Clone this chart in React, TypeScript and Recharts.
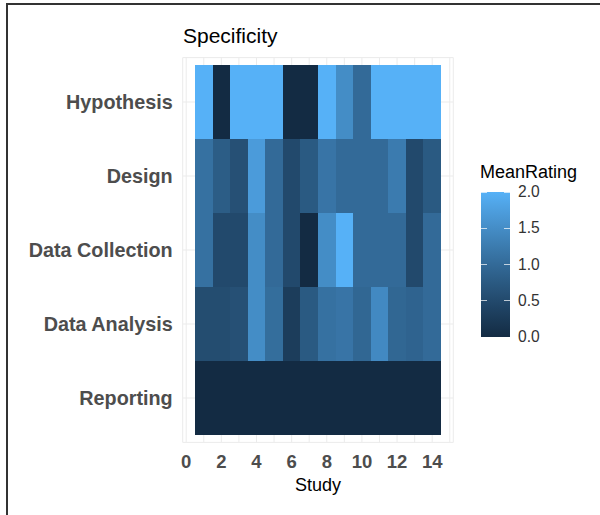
import { Bar, BarChart, CartesianGrid, Cell, XAxis, YAxis } from "recharts";

const rows = ["Hypothesis", "Design", "Data Collection", "Data Analysis", "Reporting"];
const studies = [1, 2, 3, 4, 5, 6, 7, 8, 9, 10, 11, 12, 13, 14];

// mean rating per study, one array per row
const hypothesis = [2, 0, 2, 2, 2, 0, 0, 2, 1.5, 1, 2, 2, 2, 2];
const design = [1.1, 0.8, 0.6, 1.7, 1, 0.5, 0.75, 1.15, 1, 1, 1, 1.25, 0.5, 0.75];
const dataCollection = [1.1, 0.5, 0.5, 1.5, 1, 0.5, 0, 1.5, 2, 1, 1, 1, 0.5, 1];
const dataAnalysis = [0.55, 0.55, 0.6, 1.5, 1.05, 0.3, 0.75, 1.1, 1.15, 0.95, 1.45, 0.95, 0.9, 1];
const reporting = [0, 0, 0, 0, 0, 0, 0, 0, 0, 0, 0, 0, 0, 0];

const xTicks = [0, 1, 2, 3, 4, 5, 6, 7, 8, 9, 10, 11, 12, 13, 14, 15];
const legendBreaks = [0, 0.5, 1, 1.5, 2];

const ratings = [hypothesis, design, dataCollection, dataAnalysis, reporting];

const LOW = "#132B43";
const HIGH = "#56B1F7";
const FONT = "'Liberation Sans', Arial, sans-serif";

// ggplot-like gradient, interpolated in Lab space
function toLinear(c: number) {
  const v = c / 255;
  return v <= 0.04045 ? v / 12.92 : Math.pow((v + 0.055) / 1.055, 2.4);
}
function fromLinear(c: number) {
  const v = c <= 0.0031308 ? 12.92 * c : 1.055 * Math.pow(c, 1 / 2.4) - 0.055;
  return Math.round(Math.min(1, Math.max(0, v)) * 255);
}
function hexToLab(hex: string) {
  const r = toLinear(parseInt(hex.slice(1, 3), 16));
  const g = toLinear(parseInt(hex.slice(3, 5), 16));
  const b = toLinear(parseInt(hex.slice(5, 7), 16));
  const x = (0.4124 * r + 0.3576 * g + 0.1805 * b) / 0.95047;
  const y = 0.2126 * r + 0.7152 * g + 0.0722 * b;
  const z = (0.0193 * r + 0.1192 * g + 0.9505 * b) / 1.08883;
  const f = (t: number) => (t > 0.008856 ? Math.cbrt(t) : 7.787 * t + 16 / 116);
  const fx = f(x), fy = f(y), fz = f(z);
  return [116 * fy - 16, 500 * (fx - fy), 200 * (fy - fz)];
}
function labToHex([L, A, B]: number[]) {
  const fy = (L + 16) / 116;
  const fx = fy + A / 500;
  const fz = fy - B / 200;
  const inv = (t: number) => (t * t * t > 0.008856 ? t * t * t : (t - 16 / 116) / 7.787);
  const x = inv(fx) * 0.95047, y = inv(fy), z = inv(fz) * 1.08883;
  const r = 3.2406 * x - 1.5372 * y - 0.4986 * z;
  const g = -0.9689 * x + 1.8758 * y + 0.0415 * z;
  const b = 0.0557 * x - 0.204 * y + 1.057 * z;
  return "#" + [r, g, b].map((c) => fromLinear(c).toString(16).padStart(2, "0")).join("");
}
const lowLab = hexToLab(LOW);
const highLab = hexToLab(HIGH);
function ratingColor(v: number) {
  const t = Math.min(1, Math.max(0, v / 2));
  return labToHex(lowLab.map((c, i) => c + (highLab[i] - c) * t));
}

const tableData = rows.map((row) => {
  const item: Record<string, string | number> = { row, offset: 0.5 };
  studies.forEach((s) => {
    item[`s${s}`] = 1;
  });
  return item;
});

const gradientStops = [0, 0.1, 0.2, 0.3, 0.4, 0.5, 0.6, 0.7, 0.8, 0.9, 1]
  .map((t) => `${ratingColor(t * 2)} ${(1 - t) * 100}%`)
  .reverse()
  .join(", ");

const BAR_TOP = 192;
const BAR_HEIGHT = 145;

export default function App() {
  return (
    <div
      style={{
        position: "absolute",
        left: 0,
        top: 0,
        width: 600,
        height: 515,
        background: "#fff",
        overflow: "hidden",
        fontFamily: FONT
      }}
    >
      <div
        style={{
          position: "absolute",
          left: 6,
          top: 3,
          width: 600,
          height: 520,
          borderTop: "2px solid #333",
          borderLeft: "2px solid #333"
        }}
      />
      <div
        style={{
          position: "absolute",
          left: 183,
          top: 25,
          fontSize: 21,
          lineHeight: "21px",
          color: "#000"
        }}
      >
        Specificity
      </div>

      <div style={{ position: "absolute", left: 0, top: 0 }}>
        <BarChart
          width={600}
          height={515}
          data={tableData}
          layout="vertical"
          barCategoryGap={0}
          barGap={0}
          margin={{ top: 57.6, right: 146.7, bottom: 22.6, left: 7.7 }}
        >
          <CartesianGrid stroke="#EBEBEB" strokeWidth={1} />
          <XAxis
            type="number"
            domain={[-0.2, 15.2]}
            ticks={xTicks}
            interval={0}
            allowDataOverflow
            axisLine={false}
            tickLine={false}
            tickMargin={6}
            height={50}
            tickFormatter={(v: number) => (v % 2 === 0 && v <= 14 ? String(v) : "")}
            tick={{ fill: "#4D4D4D", fontSize: 18.5, fontWeight: 700, fontFamily: FONT }}
            label={{
              value: "Study",
              position: "insideBottom",
              offset: 1,
              fill: "#000",
              fontSize: 18,
              fontFamily: FONT
            }}
          />
          <YAxis
            type="category"
            dataKey="row"
            width={175}
            axisLine={false}
            tickLine={false}
            tickMargin={4}
            interval={0}
            padding={{ top: 7.4, bottom: 7.4 }}
            tick={{ fill: "#4D4D4D", fontSize: 19.8, fontWeight: 700, fontFamily: FONT }}
          />
          <Bar dataKey="offset" stackId="tiles" fill="transparent" isAnimationActive={false} />
          {studies.map((s) => (
            <Bar key={s} dataKey={`s${s}`} stackId="tiles" isAnimationActive={false}>
              {ratings.map((vals, r) => (
                <Cell key={r} fill={ratingColor(vals[s - 1])} shapeRendering="crispEdges" />
              ))}
            </Bar>
          ))}
        </BarChart>
      </div>

      <div
        style={{
          position: "absolute",
          left: 480,
          top: 163,
          fontSize: 18,
          lineHeight: "18px",
          color: "#000"
        }}
      >
        MeanRating
      </div>
      <div
        style={{
          position: "absolute",
          left: 481,
          top: BAR_TOP,
          width: 29,
          height: BAR_HEIGHT,
          background: `linear-gradient(to bottom, ${gradientStops})`
        }}
      >
        {legendBreaks.map((b) => {
          const y = BAR_HEIGHT - (b / 2) * BAR_HEIGHT;
          return (
            <div key={b}>
              <div style={{ position: "absolute", left: 0, top: y - 0.5, width: 6, height: 1, background: "rgba(255,255,255,0.7)" }} />
              <div style={{ position: "absolute", right: 0, top: y - 0.5, width: 6, height: 1, background: "rgba(255,255,255,0.7)" }} />
            </div>
          );
        })}
      </div>
      {legendBreaks.map((b) => (
        <div
          key={b}
          style={{
            position: "absolute",
            left: 518,
            top: BAR_TOP + BAR_HEIGHT - (b / 2) * BAR_HEIGHT,
            transform: "translateY(-50%)",
            fontSize: 15.6,
            lineHeight: "15.6px",
            color: "#333"
          }}
        >
          {b.toFixed(1)}
        </div>
      ))}
    </div>
  );
}
